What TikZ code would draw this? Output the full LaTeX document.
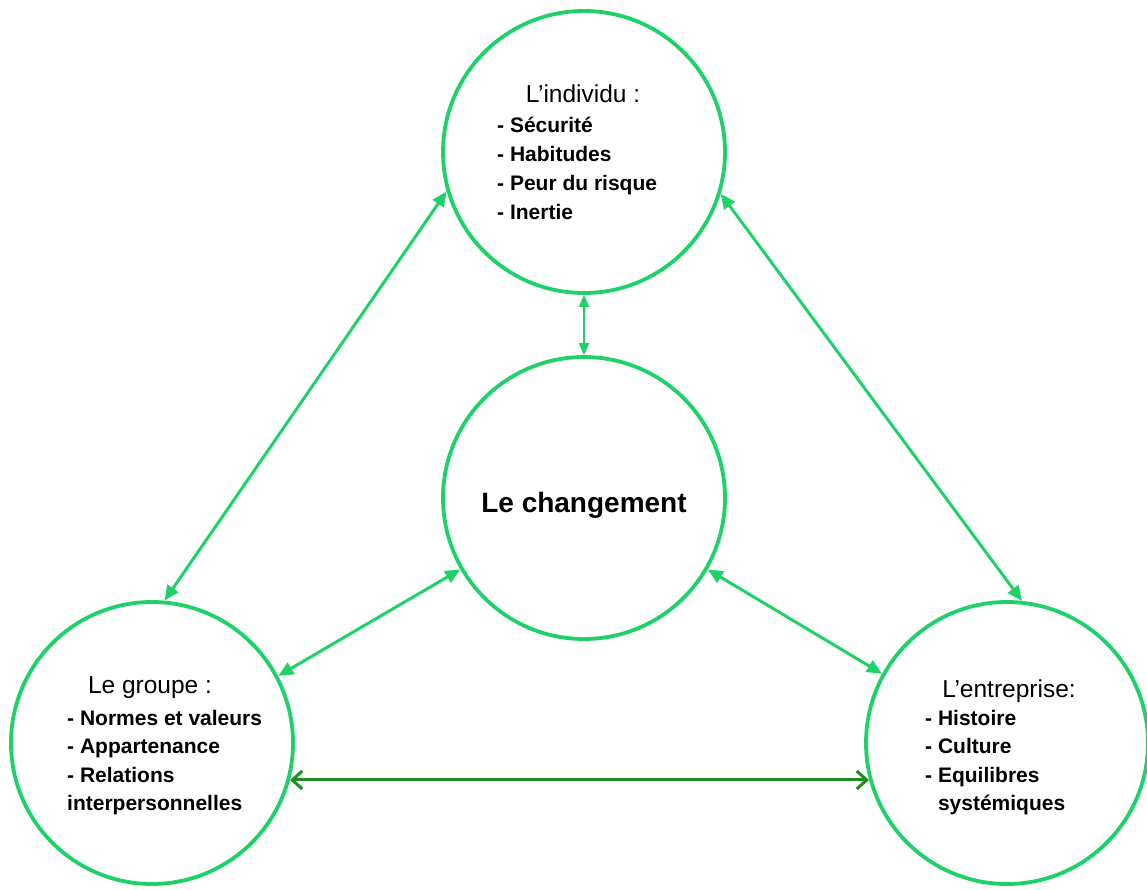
\documentclass[tikz,border=0pt]{standalone}
\usepackage{fontspec}
\setmainfont{Liberation Sans}
\usetikzlibrary{arrows.meta}
\definecolor{vert}{RGB}{30,210,105}
\definecolor{vertfonce}{RGB}{30,140,30}

\begin{document}
\begin{tikzpicture}[x=1pt, y=-1pt,
    rond/.style={circle, draw=vert, line width=3.8pt, minimum size=282pt, inner sep=0pt},
    fleche/.style={draw=vert, line width=3pt, {Triangle[length=15pt,width=13pt]}-{Triangle[length=15pt,width=13pt]}},
    titre/.style={anchor=base, inner sep=0pt, font=\fontsize{24.5}{28}\selectfont},
    item/.style={anchor=base west, inner sep=0pt, font=\fontsize{21}{25}\selectfont\bfseries}]
    \useasboundingbox (0,0) rectangle (1147,890);

    % the four circles
    \node[rond] (indiv) at (584,152) {};
    \node[rond] (change) at (584,498) {};
    \node[rond] (groupe) at (152,743) {};
    \node[rond] (entrep) at (1007,743) {};

    % texts
    \node[anchor=base, font=\fontsize{28}{32}\selectfont\bfseries] (chtxt) at (584,512) {Le changement};

    \node[titre] (indtit) at (583,103) {L’individu :};
    \foreach \t [count=\i] in {S\'ecurit\'e, Habitudes, Peur du risque, Inertie} {
        \node[item] (ind-\i) at (497,133+29*\i-29) {- \t};};

    \node[titre] (grptit) at (150,693) {Le groupe :};
    \foreach \t [count=\i] in {- Normes et valeurs, - Appartenance, - Relations, interpersonnelles} {
        \node[item] (grp-\i) at (67,725+28.5*\i-28.5) {\t};};

    \node[titre] (enttit) at (1009,697) {L’entreprise:};
    \foreach \t [count=\i] in {- Histoire, - Culture, - Equilibres, \phantom{-} syst\'emiques} {
        \node[item] (ent-\i) at (925,725+28.5*\i-28.5) {\t};};

    % arrows
    \draw[fleche] (indiv.196) -- (groupe.85);
    \draw[fleche] (indiv.343) -- (entrep.84);
    \draw[fleche] (change.210) -- (groupe.28);
    \draw[fleche] (change.330) -- (entrep.151);
    \draw[fleche, line width=2pt, {Triangle[length=12pt,width=10pt]}-{Triangle[length=12pt,width=10pt]}] (indiv.south) -- (change.north);
    \draw[vertfonce, line width=3pt, {Straight Barb[length=10pt,width=18pt]}-{Straight Barb[length=10pt,width=18pt]}] (groupe.-15) -- (entrep.195);

\end{tikzpicture}
\end{document}
